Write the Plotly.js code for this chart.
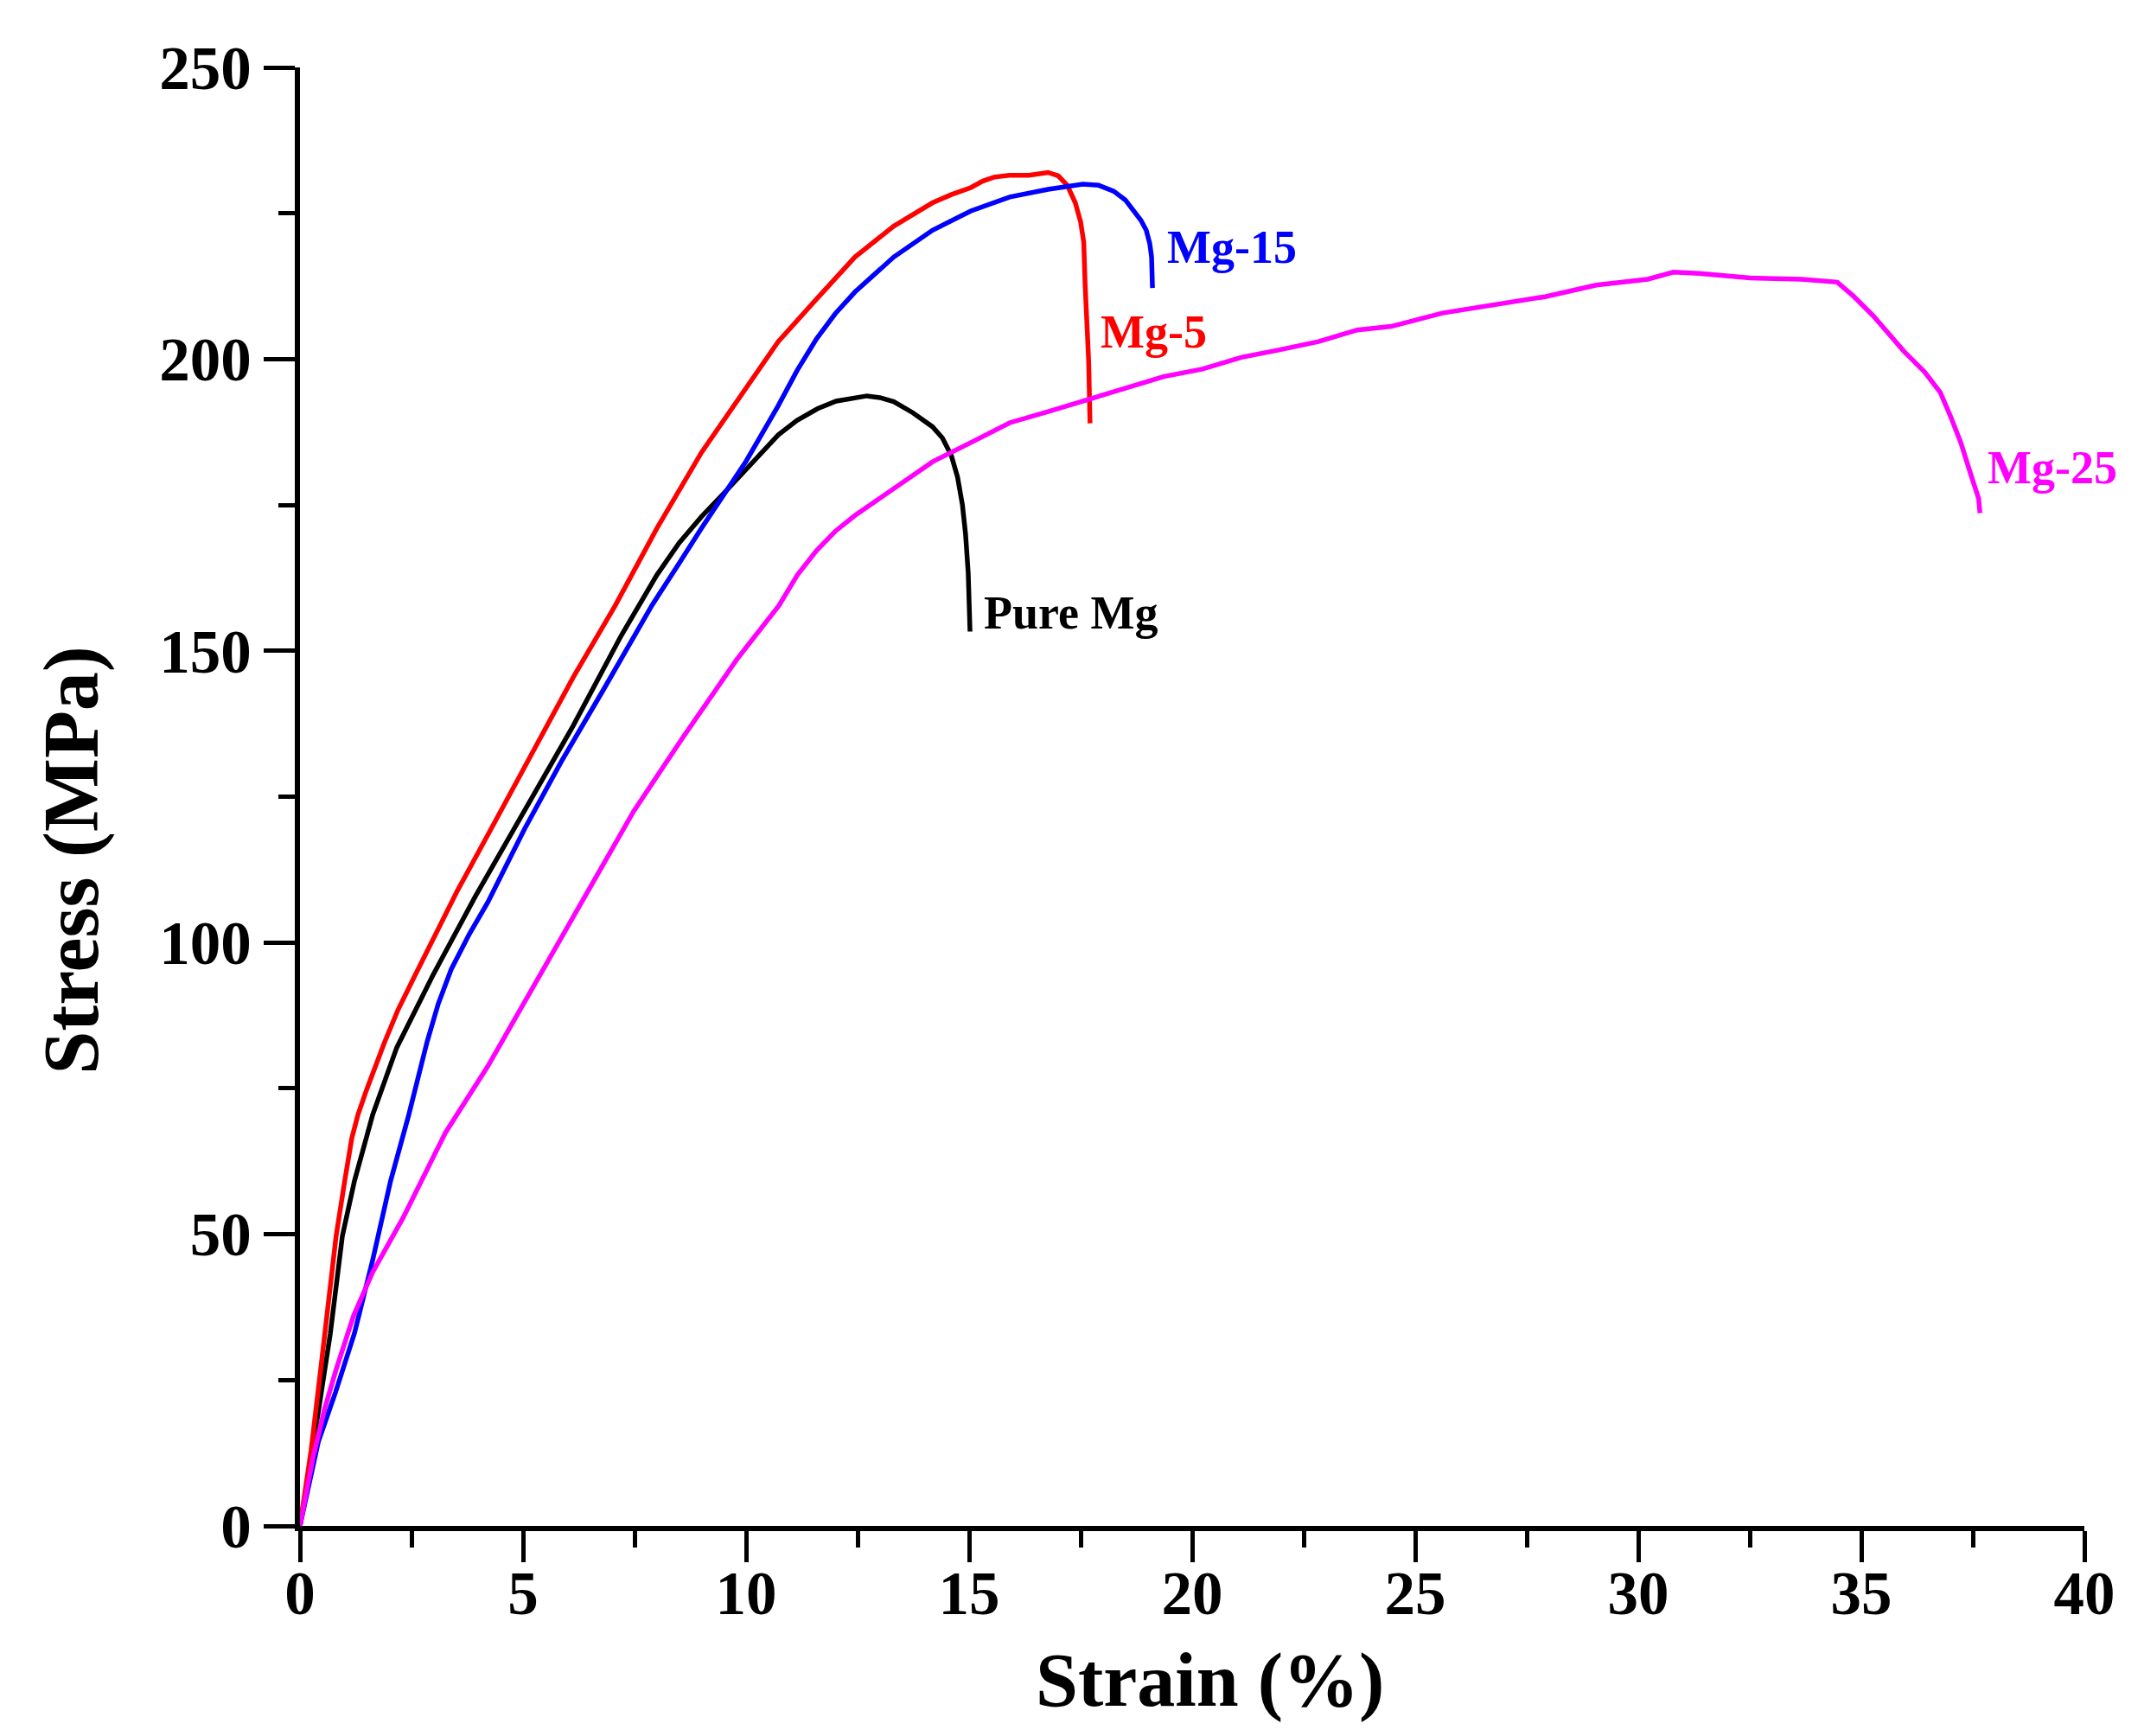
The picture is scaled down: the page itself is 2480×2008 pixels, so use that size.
<!DOCTYPE html>
<html>
<head>
<meta charset="utf-8">
<script src="https://cdn.plot.ly/plotly-3.0.1.min.js"></script>
<style>html,body{margin:0;padding:0;background:#fff;}#chart{width:2480px;height:2008px;}</style>
</head>
<body>
<div id="chart"></div>
<script>
// Strain (%) and Stress (MPa)
const pureX = [0,0.3,0.68,0.95,1.22,1.63,2.17,2.98,3.93,5.03,6.12,7.2,7.6,8.0,8.5,9.0,9.5,10.0,10.4,10.72,11.14,11.6,12.02,12.4,12.71,13.0,13.31,13.74,14.18,14.4,14.6,14.74,14.85,14.92,14.98,15.02];
const pureY = [0,14,33,49.7,59.1,70.5,82,94.4,107.9,122.5,137.1,152.6,158,163,168.5,173,177,181,184.3,187,189.5,191.5,192.8,193.4,193.7,193.4,192.7,190.8,188.4,186.5,183.5,179.8,175,170,163.3,153.3];

const mg5X = [0,0.25,0.48,0.65,0.81,1.0,1.16,1.3,1.49,1.90,2.2,2.58,3.0,3.53,4.35,5.30,6.12,7.07,8.0,9.0,10.0,10.72,11.58,12.44,13.31,14.18,14.6,15.04,15.3,15.56,15.9,16.34,16.77,17.0,17.2,17.38,17.5,17.57,17.6,17.68,17.71];
const mg5Y = [0,13,27.9,40,49.7,59,66.4,70.5,74.7,83.0,88.5,94.4,101,108.9,120.4,134.0,145.4,157.8,171,184,195,203,210.3,217.5,222.8,226.8,228.2,229.4,230.5,231.2,231.5,231.5,232,231.4,229.8,226.8,223.5,220,212.9,199.6,189];

const mg15X = [0,0.41,0.8,1.22,1.63,2.03,2.44,2.85,3.1,3.39,3.8,4.21,5.03,5.85,6.80,7.89,8.5,9.0,10.0,10.72,11.14,11.58,12.0,12.44,13.31,14.18,15.04,15.91,16.77,17.55,17.9,18.24,18.5,18.68,18.85,18.97,19.05,19.09,19.11];
const mg15Y = [0,14.4,23,33,45.6,59.1,70.5,83,89.5,95.4,101.5,106.9,119.4,130.9,143.3,157.8,165,171,182.5,192,198,203.5,207.8,211.5,217.5,222.1,225.4,227.8,229.1,230,229.8,228.8,227.3,225.4,223.8,222.1,219.8,217.5,212.2];

const mg25X = [0,0.3,0.55,0.81,1.2,1.63,2.31,3.26,4.21,5.30,6.39,7.48,8.57,9.79,10.74,11.15,11.58,12.0,12.44,13.31,14.18,15.04,15.91,16.77,17.64,18.5,19.36,20.23,21.1,21.96,22.83,23.7,24.46,25.61,26.76,27.91,29.06,30.21,30.79,31.36,32.51,33.66,34.46,34.81,35.27,35.62,35.96,36.42,36.77,37.0,37.23,37.46,37.63,37.66];
const mg25Y = [0,12,20,26.8,36,43.5,52.8,67.4,78.8,93.4,107.9,122.5,135,148.5,157.8,163,167.2,170.5,173.2,177.8,182.4,185.7,189.1,191,193,195,197,198.3,200.3,201.6,203,205,205.6,207.9,209.4,210.7,212.7,213.7,214.9,214.7,213.9,213.7,213.2,210.9,207.4,204.4,201.3,197.8,194.3,190.2,185.7,180.1,176.1,173.6];

const seriesNames = ["Pure Mg","Mg-5","Mg-15","Mg-25"];
const seriesColors = ["#000000","#ff0000","#0000ff","#ff00ff"];
const labelX = [15.3,17.9,19.4,37.8];
const labelY = [156.5,204.6,219.2,181.4];

const xTicks = [0,5,10,15,20,25,30,35,40];
const yTicks = [0,50,100,150,200,250];
const xTitle = 'Strain (%)';
const yTitle = 'Stress (MPa)';

const FONT = "'Liberation Serif', 'Times New Roman', serif";
const xs = [pureX, mg5X, mg15X, mg25X];
const ys = [pureY, mg5Y, mg15Y, mg25Y];

const traces = seriesNames.map((n,i)=>({
  type:'scatter', mode:'lines', name:n, x:xs[i], y:ys[i],
  line:{color:seriesColors[i], width:5.5}, showlegend:false
}));

const annotations = seriesNames.map((n,i)=>({
  x:labelX[i], y:labelY[i], xref:'x', yref:'y', text:n, showarrow:false,
  xanchor:'left', yanchor:'middle',
  font:{family:FONT, size:54, color:seriesColors[i], weight:'bold'}
}));
// axis titles placed as in the reference (offset from the axis centres)
annotations.push({
  x:0.5097, y:-0.106, xref:'paper', yref:'paper', text:xTitle, showarrow:false,
  xanchor:'center', yanchor:'middle',
  font:{family:FONT, size:88, color:'#000', weight:'bold'}
});
annotations.push({
  x:-0.128, y:0.4564, xref:'paper', yref:'paper', text:yTitle, showarrow:false,
  textangle:-90, xanchor:'center', yanchor:'middle',
  font:{family:FONT, size:90, color:'#000', weight:'bold'}
});

const layout = {
  width:2480, height:2008,
  margin:{l:347, r:69, t:78, b:243},
  paper_bgcolor:'#fff', plot_bgcolor:'#fff',
  xaxis:{
    range:[0,40], tickvals:xTicks, ticktext:xTicks.map(String),
    showgrid:false, zeroline:false, showline:true, linecolor:'#000', linewidth:6,
    ticks:'outside', ticklen:36, tickwidth:5, tickcolor:'#000', ticklabelstandoff:-25,
    minor:{dtick:2.5, tick0:0, ticks:'outside', ticklen:19, tickwidth:5, tickcolor:'#000', showgrid:false},
    tickfont:{family:FONT, size:71, color:'#000', weight:'bold'}
  },
  yaxis:{
    range:[0,250], tickvals:yTicks, ticktext:yTicks.map(String),
    showgrid:false, zeroline:false, showline:true, linecolor:'#000', linewidth:6,
    ticks:'outside', ticklen:36, tickwidth:5, tickcolor:'#000',
    minor:{dtick:25, tick0:0, ticks:'outside', ticklen:19, tickwidth:5, tickcolor:'#000', showgrid:false},
    tickfont:{family:FONT, size:71, color:'#000', weight:'bold'}
  },
  annotations:annotations,
  showlegend:false
};

Plotly.newPlot('chart', traces, layout, {staticPlot:true, displayModeBar:false});
</script>
</body>
</html>
